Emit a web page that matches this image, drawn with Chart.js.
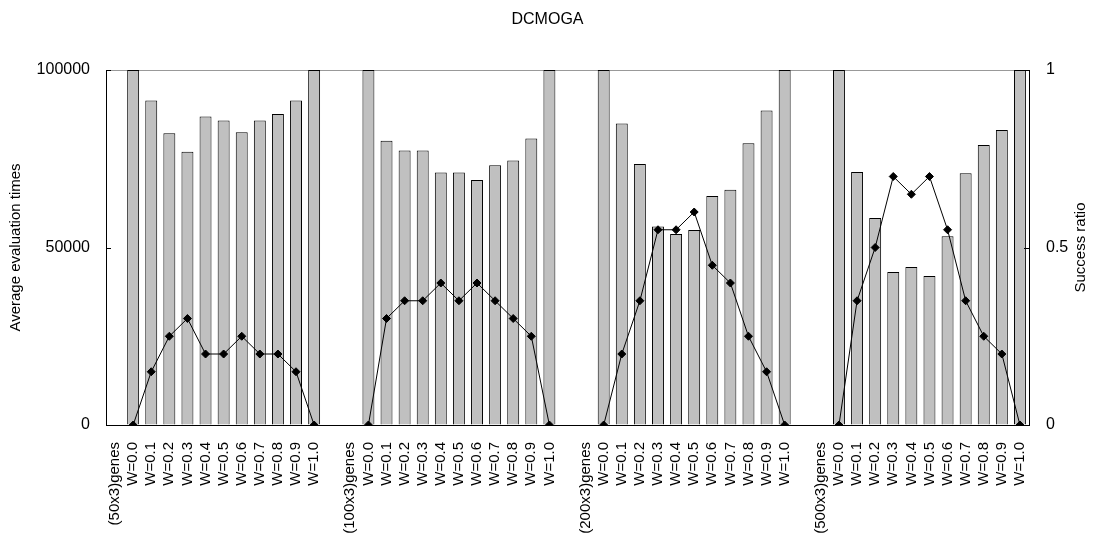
<!DOCTYPE html>
<html>
<head>
<meta charset="utf-8">
<script src="https://cdn.jsdelivr.net/npm/chart.js@4.4.1/dist/chart.umd.min.js"></script>
<style>
  html, body { margin: 0; padding: 0; background: #fff; }
  #wrap { width: 1095px; height: 548px; }
</style>
</head>
<body>
<div id="wrap"><canvas id="chart" width="1095" height="548"></canvas></div>
<script>
// Problem sizes and the weight settings tried for each
const groupLabels = ['(50x3)genes', '(100x3)genes', '(200x3)genes', '(500x3)genes'];
const weightLabels = ['W=0.0', 'W=0.1', 'W=0.2', 'W=0.3', 'W=0.4', 'W=0.5',
                      'W=0.6', 'W=0.7', 'W=0.8', 'W=0.9', 'W=1.0'];

// Average number of evaluations per weight
const evalTimes50  = [100000, 91400, 82200, 77000, 86900, 85800, 82500, 85800, 87600, 91400, 100000];
const evalTimes100 = [100000, 80100, 77300, 77300, 71100, 71100, 69000, 73200, 74500, 80700, 100000];
const evalTimes200 = [100000, 84900, 73500, 55900, 53800, 54900, 64500, 66300, 79400, 88600, 100000];
const evalTimes500 = [100000, 71300, 58300, 43100, 44500, 42000, 53200, 70900, 78900, 83100, 100000];

// Success ratio per weight
const success50  = [0, 0.15, 0.25, 0.30, 0.20, 0.20, 0.25, 0.20, 0.20, 0.15, 0];
const success100 = [0, 0.30, 0.35, 0.35, 0.40, 0.35, 0.40, 0.35, 0.30, 0.25, 0];
const success200 = [0, 0.20, 0.35, 0.55, 0.55, 0.60, 0.45, 0.40, 0.25, 0.15, 0];
const success500 = [0, 0.35, 0.50, 0.70, 0.65, 0.70, 0.55, 0.35, 0.25, 0.20, 0];

// Axis tick values
const evalTicks = [0, 50000, 100000];
const ratioTicks = [0, 0.5, 1];

const evalGroups = [evalTimes50, evalTimes100, evalTimes200, evalTimes500];
const successGroups = [success50, success100, success200, success500];

// Each group: a heading category, the eleven weights, then a blank spacer
const labels = [];
const evalData = [];
const successData = [];
groupLabels.forEach((g, gi) => {
  labels.push(g); evalData.push(null); successData.push(null);
  weightLabels.forEach((w, wi) => {
    labels.push(w);
    evalData.push(evalGroups[gi][wi]);
    successData.push(successGroups[gi][wi]);
  });
  if (gi < groupLabels.length - 1) {
    labels.push(''); evalData.push(null); successData.push(null);
  }
});

const FONT = 'Liberation Sans, Arial, Helvetica, sans-serif';
Chart.defaults.color = '#000';
Chart.defaults.font.family = FONT;

// Short tick marks pointing into the plot, plus the right-hand axis title
const extras = {
  id: 'extras',
  afterDraw(chart) {
    const ctx = chart.ctx;
    const area = chart.chartArea;
    ctx.save();
    ctx.strokeStyle = '#000';
    ctx.lineWidth = 1;
    const yl = chart.scales.y, yr = chart.scales.y1;
    yl.ticks.forEach(t => {
      const py = Math.round(yl.getPixelForValue(t.value)) + 0.5;
      ctx.beginPath(); ctx.moveTo(area.left, py); ctx.lineTo(area.left + 5, py); ctx.stroke();
    });
    yr.ticks.forEach(t => {
      const py = Math.round(yr.getPixelForValue(t.value)) + 0.5;
      ctx.beginPath(); ctx.moveTo(area.right, py); ctx.lineTo(area.right - 5, py); ctx.stroke();
    });
    ctx.translate(1081, (area.top + area.bottom) / 2);
    ctx.rotate(-Math.PI / 2);
    ctx.fillStyle = '#000';
    ctx.font = '15px ' + FONT;
    ctx.textAlign = 'center';
    ctx.textBaseline = 'middle';
    ctx.fillText('Success ratio', 0, 0);
    ctx.restore();
  }
};

new Chart(document.getElementById('chart'), {
  data: {
    labels: labels,
    datasets: [
      {
        type: 'line',
        label: 'Success ratio',
        data: successData,
        yAxisID: 'y1',
        borderColor: '#000',
        backgroundColor: '#000',
        borderWidth: 1,
        pointStyle: 'rectRot',
        pointRadius: 4,
        pointBackgroundColor: '#000',
        pointBorderColor: '#000',
        tension: 0,
        spanGaps: false,
        order: 0
      },
      {
        type: 'bar',
        label: 'Average evaluation times',
        data: evalData,
        yAxisID: 'y',
        backgroundColor: '#c0c0c0',
        borderColor: '#000',
        borderWidth: 1,
        categoryPercentage: 1,
        barPercentage: 0.66,
        order: 1
      }
    ]
  },
  options: {
    responsive: false,
    animation: false,
    devicePixelRatio: 1,
    layout: { padding: { left: 0, right: 0, top: 0, bottom: 0 } },
    plugins: {
      legend: { display: false },
      tooltip: { enabled: false },
      title: {
        display: true,
        text: 'DCMOGA',
        font: { size: 16, weight: 'normal', family: FONT },
        color: '#000',
        padding: { top: 10, bottom: 40.8 }
      }
    },
    scales: {
      x: {
        offset: true,
        grid: { display: false, drawTicks: false },
        border: { display: true, color: '#000', width: 1 },
        ticks: {
          autoSkip: false,
          minRotation: 90,
          maxRotation: 90,
          padding: 17,
          font: { size: 15, family: FONT }
        },
        afterFit(scale) { scale.height = 123; }
      },
      y: {
        position: 'left',
        min: evalTicks[0],
        max: evalTicks[evalTicks.length - 1],
        afterBuildTicks(scale) { scale.ticks = evalTicks.map(v => ({ value: v })); },
        grid: {
          drawTicks: false,
          color: ctx => (ctx.tick && ctx.tick.value === 100000 ? '#999' : 'rgba(0,0,0,0)')
        },
        border: { display: true, color: '#000', width: 1 },
        ticks: {
          padding: 16,
          font: { size: 16, family: FONT },
          callback: v => String(v)
        },
        title: {
          display: true,
          text: 'Average evaluation times',
          font: { size: 15, family: FONT },
          padding: { top: 7 }
        },
        afterFit(scale) { scale.width = 106; }
      },
      y1: {
        position: 'right',
        min: ratioTicks[0],
        max: ratioTicks[ratioTicks.length - 1],
        afterBuildTicks(scale) { scale.ticks = ratioTicks.map(v => ({ value: v })); },
        grid: { display: false, drawTicks: false },
        border: { display: true, color: '#000', width: 1 },
        ticks: {
          padding: 17,
          font: { size: 16, family: FONT },
          callback: v => String(v)
        },
        afterFit(scale) { scale.width = 66; }
      }
    }
  },
  plugins: [extras]
});
</script>
</body>
</html>
